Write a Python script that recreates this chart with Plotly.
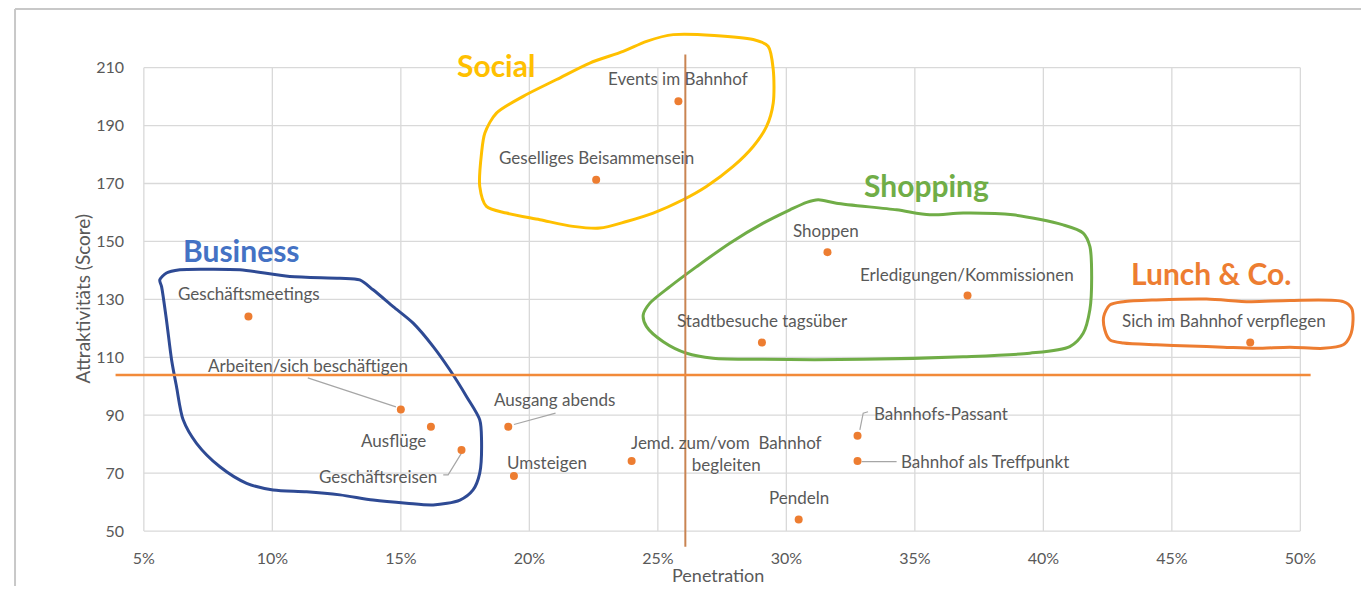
import plotly.graph_objects as go

# ---------------- data ----------------
labels = ["Events im Bahnhof", "Geselliges Beisammensein", "Shoppen",
          "Erledigungen/Kommissionen", "Stadtbesuche tagsüber",
          "Sich im Bahnhof verpflegen", "Geschäftsmeetings",
          "Arbeiten/sich beschäftigen", "Ausflüge", "Geschäftsreisen",
          "Ausgang abends", "Umsteigen", "Jemd. zum/vom  Bahnhof<br>begleiten",
          "Bahnhofs-Passant", "Bahnhof als Treffpunkt", "Pendeln"]
penetration = [25.8, 22.6, 31.6, 37.05, 29.05, 48.05, 9.07, 15.0, 16.17, 17.36,
               19.18, 19.4, 23.98, 32.77, 32.77, 30.48]
attraktivitaet = [198.4, 171.3, 146.3, 131.3, 115.1, 115.1, 124.1, 92.0, 86.0, 78.0,
                  86.0, 69.0, 74.2, 82.9, 74.2, 54.0]

# label positions (centre of text) in data units
label_x = [25.79, 22.61, 31.56, 37.03, 29.07, 47.04, 9.09, 11.37, 14.72, 14.12,
           20.99, 20.68, 27.67, 36.02, 37.72, 30.50]
label_y = [206.1, 179.0, 153.8, 138.7, 122.7, 122.6, 131.9, 107.1, 81.1, 68.8,
           95.5, 73.8, 76.7, 90.7, 74.0, 61.7]

# leader lines (data units)
leaders = [
    ([11.38, 14.81], [102.9, 92.9]),
    ([16.65, 16.84, 17.36], [69.4, 69.4, 76.9]),
    ([21.02, 19.40], [90.7, 86.8]),
    ([33.18, 32.99, 32.86], [91.2, 90.7, 84.9]),
    ([32.93, 34.29], [74.0, 74.0]),
]

x_ticks = [5, 10, 15, 20, 25, 30, 35, 40, 45, 50]
x_tick_text = ["5%", "10%", "15%", "20%", "25%", "30%", "35%", "40%", "45%", "50%"]
y_ticks = [50, 70, 90, 110, 130, 150, 170, 190, 210]
y_tick_text = ["50", "70", "90", "110", "130", "150", "170", "190", "210"]

# reference lines
ref_pen = 26.07
ref_att = 103.9

# hand-drawn group outlines (data units)
social_x = [25.60, 28.71, 29.29, 29.49, 29.49, 29.23, 28.71, 27.93, 26.89, 25.98, 24.82,
            23.78, 22.74, 21.70, 20.41, 19.11, 18.33, 18.07, 18.14, 18.27, 18.72, 19.76,
            21.06, 22.35, 23.65, 24.56, 25.60]
social_y = [221.4, 219.7, 217.4, 209.3, 197.8, 189.7, 182.8, 175.9, 169.0, 164.4, 159.8,
            156.9, 154.6, 155.2, 157.5, 159.8, 162.1, 169.0, 180.5, 187.4, 194.3, 200.1,
            205.9, 211.6, 215.6, 219.1, 221.4]

shopping_x = [31.24, 31.95, 34.29, 35.58, 36.88, 38.82, 40.77, 41.55, 41.81, 41.88, 41.81,
              41.55, 41.03, 39.47, 36.88, 32.99, 29.10, 27.15, 26.12, 25.21, 24.56, 24.43,
              24.69, 25.47, 26.51, 27.80, 29.10, 30.14, 30.79, 31.24]
shopping_y = [164.4, 163.2, 160.9, 159.2, 159.8, 159.2, 155.7, 152.9, 148.3, 137.9, 126.4,
              118.3, 113.7, 111.4, 110.2, 109.3, 109.3, 109.7, 111.4, 115.4, 120.6, 124.6,
              128.7, 134.4, 141.3, 149.4, 156.3, 160.9, 163.5, 164.4]

business_x = [5.62, 5.88, 6.40, 7.44, 8.74, 10.68, 12.63, 13.40, 13.92, 14.70, 15.48, 16.26,
              16.91, 17.56, 18.07, 18.14, 18.07, 17.81, 17.30, 16.26, 15.22, 13.92, 12.63,
              11.33, 10.03, 9.00, 7.96, 7.05, 6.53, 6.27, 6.08, 5.88, 5.69, 5.62]
business_y = [136.7, 139.1, 140.2, 140.4, 140.2, 137.9, 137.3, 136.7, 133.3, 127.5, 121.8,
              113.7, 105.6, 96.4, 88.4, 81.5, 70.0, 64.2, 60.7, 59.0, 59.6, 60.7, 62.5,
              63.6, 64.2, 66.5, 72.2, 80.3, 88.4, 99.9, 109.1, 122.9, 134.4, 136.7]

lunch_x = [42.59, 43.11, 44.40, 46.35, 48.04, 49.59, 51.67, 51.99, 52.05, 51.93, 51.67,
           50.89, 49.59, 48.30, 47.00, 45.70, 44.40, 43.11, 42.59, 42.39, 42.35, 42.59]
lunch_y = [128.1, 129.2, 129.8, 130.1, 129.2, 129.6, 129.2, 127.0, 122.9, 117.2, 114.3,
           113.1, 113.5, 113.1, 113.5, 113.9, 114.3, 114.9, 116.0, 119.5, 124.1, 128.1]

groups = ["Social", "Shopping", "Business", "Lunch & Co."]
group_label_x = [18.69, 35.45, 8.81, 46.51]
group_label_y = [211.0, 169.6, 147.1, 139.1]

# ---------------- styling ----------------
FONT = "Lato"
TXT = "#595959"
ORANGE = "#ED7D31"
GRID = "#D9D9D9"
group_text_colors = ["#FFC000", "#70AD47", "#4472C4", "#ED7D31"]
group_line_colors = ["#FFC000", "#70AD47", "#2E4A94", "#ED7D31"]
outlines = [(social_x, social_y), (shopping_x, shopping_y),
            (business_x, business_y), (lunch_x, lunch_y)]

X_RANGE = [3.8, 52.36]
Y_RANGE = [44.5, 223]

fig = go.Figure()

# gridlines limited to the data area
shapes = []
for xv in x_ticks:
    shapes.append(dict(type="line", xref="x", yref="y", x0=xv, x1=xv,
                       y0=y_ticks[0], y1=y_ticks[-1],
                       line=dict(color=GRID, width=1.3), layer="below"))
for yv in y_ticks:
    shapes.append(dict(type="line", xref="x", yref="y", x0=x_ticks[0], x1=x_ticks[-1],
                       y0=yv, y1=yv, line=dict(color=GRID, width=1.3), layer="below"))

# reference lines
shapes.append(dict(type="line", xref="x", yref="y", x0=ref_pen, x1=ref_pen,
                   y0=44.6, y1=214.5, line=dict(color="#C98452", width=2)))
shapes.append(dict(type="line", xref="x", yref="y", x0=3.9, x1=50.4,
                   y0=ref_att, y1=ref_att, line=dict(color="#F28A3A", width=2.5)))

# outer frame of the original chart area
shapes.append(dict(type="line", xref="paper", yref="paper", x0=-0.0785, x1=1.01,
                   y0=1.0406, y1=1.0406, line=dict(color="#C8C8C8", width=2)))
shapes.append(dict(type="line", xref="paper", yref="paper", x0=-0.0785, x1=-0.0785,
                   y0=-0.1, y1=1.0406, line=dict(color="#C8C8C8", width=2)))

# outlines
for (ox, oy), col in zip(outlines, group_line_colors):
    fig.add_trace(go.Scatter(x=ox, y=oy, mode="lines",
                             line=dict(color=col, width=3, shape="spline", smoothing=0.8),
                             hoverinfo="skip", showlegend=False))

# leader lines
for lx, ly in leaders:
    fig.add_trace(go.Scatter(x=lx, y=ly, mode="lines",
                             line=dict(color="#A6A6A6", width=1.2),
                             hoverinfo="skip", showlegend=False))

# points
fig.add_trace(go.Scatter(x=penetration, y=attraktivitaet, mode="markers",
                         marker=dict(color=ORANGE, size=8),
                         text=labels, showlegend=False))

annotations = []
for t, x, y in zip(labels, label_x, label_y):
    annotations.append(dict(x=x, y=y, xref="x", yref="y", text=t, showarrow=False,
                            font=dict(family=FONT, size=17, color=TXT),
                            xanchor="center", yanchor="middle"))
for g, x, y, c in zip(groups, group_label_x, group_label_y, group_text_colors):
    annotations.append(dict(x=x, y=y, xref="x", yref="y", text="<b>" + g + "</b>",
                            showarrow=False, font=dict(family=FONT, size=30, color=c),
                            xanchor="center", yanchor="middle"))

# axis titles
annotations.append(dict(x=27.35, y=-0.054, xref="x", yref="paper", text="Penetration",
                        showarrow=False, font=dict(family=FONT, size=18, color=TXT),
                        xanchor="center", yanchor="middle"))
annotations.append(dict(x=-0.0248, y=0.479, xref="paper", yref="paper",
                        text="Attraktivitäts (Score)", textangle=-90, showarrow=False,
                        font=dict(family=FONT, size=19, color=TXT),
                        xanchor="center", yanchor="middle"))

fig.update_layout(
    width=1353, height=578,
    margin=dict(l=105, r=0, t=22, b=39),
    paper_bgcolor="white", plot_bgcolor="white",
    shapes=shapes, annotations=annotations,
    font=dict(family=FONT, color=TXT),
    xaxis=dict(range=X_RANGE, tickmode="array", tickvals=x_ticks, ticktext=x_tick_text,
               showgrid=False, zeroline=False, showline=False, ticks="",
               tickfont=dict(family=FONT, size=16, color=TXT)),
    yaxis=dict(range=Y_RANGE, tickmode="array", tickvals=y_ticks, ticktext=y_tick_text,
               showgrid=False, zeroline=False, showline=False, ticks="",
               ticklabelstandoff=-12,
               tickfont=dict(family=FONT, size=16, color=TXT)),
)

fig.write_html("out.html")
